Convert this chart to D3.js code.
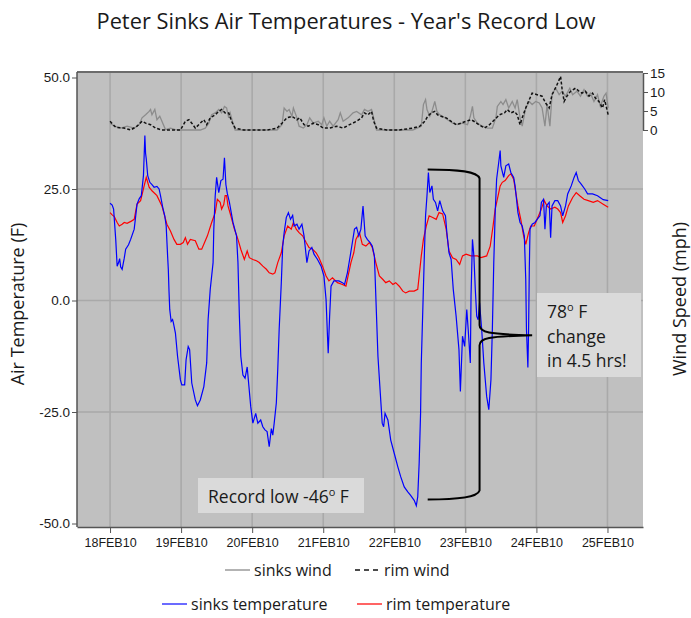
<!DOCTYPE html>
<html>
<head>
<meta charset="utf-8">
<script src="https://cdn.jsdelivr.net/npm/d3@7"></script>
<style>
  body { margin: 0; background: #fff; }
  text { fill: #1a1a1a; }
</style>
</head>
<body>
<svg id="chart" width="691" height="618"></svg>
<script>
// Peter Sinks, Utah — February 2010 air temperature and wind record.
// Each series is [days since 18FEB10 00:00, value].

const sinksTemp = [
  [0,21.8],[0.03,21.4],[0.05,20.5],[0.08,13.7],[0.10,7.7],[0.12,8.5],[0.135,9.4],[0.15,7.5],[0.17,7.0],
  [0.20,9.5],[0.22,11.5],[0.26,12.5],[0.29,13.7],[0.34,16],[0.38,21.6],[0.41,22.8],[0.44,23.5],[0.47,28],
  [0.49,37],[0.50,33],[0.51,31.7],[0.53,28],[0.56,26.5],[0.59,26],[0.62,25.4],[0.66,25.6],[0.69,25],
  [0.71,23.5],[0.74,21],[0.77,19],[0.79,16.7],[0.81,10],[0.82,7],[0.83,2],[0.84,-2],[0.86,-4.7],[0.88,-4.3],
  [0.89,-4.9],[0.92,-7.3],[0.95,-12.5],[0.99,-17.8],[1.01,-18.9],[1.05,-18.9],[1.07,-13.3],[1.10,-10.3],
  [1.12,-11],[1.15,-18.5],[1.20,-22.3],[1.23,-23.6],[1.27,-22.3],[1.32,-19.3],[1.36,-14],[1.38,-4.3],
  [1.41,2.5],[1.45,8.5],[1.46,16],[1.48,23.5],[1.50,27.6],[1.53,24.2],[1.56,26.9],[1.59,27.2],[1.61,32],
  [1.63,26],[1.65,24],[1.68,22],[1.73,17.5],[1.78,14.5],[1.80,8.5],[1.82,-3.5],[1.84,-12.5],[1.87,-16.7],
  [1.90,-17.4],[1.93,-14.9],[1.95,-18.5],[1.98,-23.8],[2.01,-27.5],[2.05,-25.3],[2.08,-27.5],[2.12,-26.8],
  [2.15,-28.3],[2.18,-29],[2.21,-29.4],[2.24,-32.8],[2.27,-28.7],[2.29,-30.2],[2.31,-27.5],[2.34,-23],
  [2.36,-15.5],[2.38,-6.5],[2.41,4],[2.43,12.2],[2.45,15.2],[2.48,18.6],[2.51,19.7],[2.54,18.2],[2.57,19.1],
  [2.59,16.7],[2.63,17.1],[2.66,16],[2.70,17.1],[2.73,14.5],[2.77,8.5],[2.80,11.1],[2.84,11.9],[2.87,10.4],
  [2.92,9.2],[2.97,7.7],[3.01,5.5],[3.04,0.2],[3.06,-8],[3.07,-11.8],[3.09,-3.5],[3.11,3.2],[3.15,4.4],
  [3.22,4.4],[3.27,4],[3.30,3.6],[3.34,6.2],[3.38,10],[3.41,13],[3.44,16],[3.47,16.4],[3.50,14.5],[3.53,16],
  [3.56,21.2],[3.59,14.5],[3.62,13.7],[3.66,13],[3.69,12.2],[3.72,10],[3.74,1],[3.77,-12.5],[3.80,-20],
  [3.83,-27.5],[3.85,-28.3],[3.87,-25.3],[3.91,-26.8],[3.95,-31.3],[4.00,-34.3],[4.05,-37.3],[4.09,-39.5],
  [4.14,-41.8],[4.19,-42.9],[4.23,-43.7],[4.28,-44.8],[4.31,-46],[4.33,-44],[4.35,-36.5],[4.37,-25.3],
  [4.38,-14],[4.40,-2.8],[4.42,8.5],[4.44,19],[4.46,23.5],[4.48,28.7],[4.50,24.2],[4.53,25.7],[4.55,22.7],
  [4.58,22],[4.61,20.1],[4.64,22.4],[4.68,20.1],[4.72,19],[4.74,15.2],[4.77,10.7],[4.80,9.2],[4.83,2.5],
  [4.87,-3.5],[4.91,-11],[4.93,-20.4],[4.96,-8],[4.99,-10.3],[5.02,-2],[5.04,-6.5],[5.07,-14],[5.08,1],
  [5.10,13.7],[5.12,10],[5.14,2.5],[5.16,-3.5],[5.18,-4.3],[5.20,-0.5],[5.23,-6.5],[5.26,-14],[5.30,-21.5],
  [5.33,-24.5],[5.36,-17.8],[5.38,-6.5],[5.40,8.5],[5.42,19.7],[5.44,27.2],[5.47,31],[5.49,33.6],[5.50,30.2],
  [5.54,27.6],[5.57,30.2],[5.61,30.6],[5.64,28.7],[5.68,27.6],[5.70,25.7],[5.72,22.7],[5.74,19.7],
  [5.77,17.5],[5.80,16.7],[5.83,14.5],[5.85,4.7],[5.86,-6.5],[5.88,-15],[5.89,-6.5],[5.90,7],[5.91,16],
  [5.94,17.1],[5.98,17.5],[6.01,18.2],[6.05,19],[6.07,22],[6.10,22.7],[6.12,16],[6.14,21.2],[6.18,22],
  [6.20,14.1],[6.22,21.2],[6.26,22.4],[6.30,22.4],[6.34,21.2],[6.37,19],[6.41,21.2],[6.44,23.9],[6.49,25.7],
  [6.53,27.6],[6.56,28.7],[6.59,26.9],[6.63,26.1],[6.68,25],[6.72,23.9],[6.79,23.9],[6.86,23.5],[6.94,22.6],
  [7.01,22.4]
];

const rimTemp = [
  [0,19.7],[0.03,19.2],[0.06,18.8],[0.10,17.5],[0.13,16.7],[0.17,17.1],[0.20,17.5],[0.24,17.3],[0.30,17.8],
  [0.34,18.2],[0.38,21.6],[0.43,22.4],[0.48,25.7],[0.51,27.6],[0.55,25.4],[0.59,24.6],[0.66,23.5],[0.73,21.2],
  [0.80,17.1],[0.85,15.6],[0.90,13.7],[0.94,12.6],[0.99,12.6],[1.03,13],[1.06,14.1],[1.09,12.6],[1.13,13.7],
  [1.20,13.4],[1.25,11.5],[1.29,11.5],[1.33,13],[1.37,14.5],[1.43,17.5],[1.48,19.7],[1.51,22.7],[1.55,22],
  [1.57,20.5],[1.60,21.5],[1.62,23.5],[1.64,23.5],[1.66,21.2],[1.70,19],[1.75,16],[1.80,13.7],[1.84,11.5],
  [1.89,9.2],[1.93,11.1],[1.96,9.6],[2.01,9.2],[2.06,8.9],[2.10,8.5],[2.15,7.7],[2.20,7],[2.24,6.2],[2.29,5.9],
  [2.32,6.2],[2.36,8.5],[2.41,10.7],[2.45,14.5],[2.50,16.7],[2.55,16],[2.58,17.5],[2.62,16],[2.66,15.2],
  [2.71,14.5],[2.76,13],[2.80,11.9],[2.85,11.5],[2.90,10.7],[2.94,9.6],[2.99,7.7],[3.04,5.5],[3.08,4.4],
  [3.13,5.1],[3.20,4],[3.27,3.6],[3.32,3.2],[3.35,5.5],[3.39,8.5],[3.43,10.7],[3.46,13.7],[3.51,15.2],
  [3.55,12.6],[3.60,12.2],[3.65,13],[3.69,11.9],[3.74,8.5],[3.79,5.5],[3.84,4.7],[3.88,4],[3.93,4.4],[3.98,3.6],
  [4.02,4],[4.07,3.2],[4.12,2.1],[4.16,1.7],[4.21,2.1],[4.28,2.1],[4.33,2.5],[4.35,5.5],[4.38,10],[4.41,13.7],
  [4.45,16.7],[4.49,19],[4.54,18.6],[4.59,18.2],[4.63,19.7],[4.68,19.4],[4.73,16],[4.77,11.1],[4.82,9.6],
  [4.87,9.2],[4.92,8.1],[4.96,10],[5.01,10.4],[5.08,10],[5.17,10],[5.22,9.6],[5.30,10],[5.35,12.2],[5.39,16.7],
  [5.42,20.5],[5.45,22.7],[5.49,25.7],[5.52,26.5],[5.56,26.9],[5.61,28],[5.64,28.4],[5.68,27.2],[5.71,24.2],
  [5.74,21.2],[5.78,18.2],[5.82,14.5],[5.85,12.6],[5.89,15.2],[5.92,16.7],[5.97,16.7],[6.01,18.2],[6.06,20.1],
  [6.11,22.4],[6.15,21.2],[6.20,20.5],[6.26,20.9],[6.30,20.5],[6.34,19.7],[6.37,17.5],[6.41,19],[6.45,21.2],
  [6.51,23.1],[6.56,24.2],[6.61,23.5],[6.67,22.7],[6.73,22.4],[6.80,22],[6.86,22.4],[6.94,21.6],[7.01,20.9]
];

const sinksWind = [
  [0,1.8],[0.06,1],[0.15,0.5],[0.24,1],[0.34,0.5],[0.41,1.4],[0.45,3.2],[0.50,4],[0.55,4.9],[0.57,5.4],
  [0.59,4],[0.63,5.4],[0.66,2.7],[0.70,3.6],[0.73,2.3],[0.78,0.1],[0.85,0.5],[0.92,0.1],[0.99,0],[1.08,0],
  [1.18,0],[1.27,0],[1.34,0.5],[1.39,1.8],[1.43,4],[1.48,4.5],[1.53,5.4],[1.57,4.5],[1.61,6.2],[1.64,5.8],
  [1.67,3.2],[1.69,4.5],[1.73,1.8],[1.76,0],[1.88,0],[2.02,0],[2.21,0],[2.35,0],[2.42,1.4],[2.45,5.8],
  [2.49,4.9],[2.52,5.4],[2.56,3.6],[2.58,5.8],[2.63,3.2],[2.66,1],[2.72,0.5],[2.77,1.4],[2.81,3.2],[2.86,1.8],
  [2.93,2.3],[2.98,1.4],[3.01,3.2],[3.05,1],[3.09,2.3],[3.14,1],[3.21,2.7],[3.24,4.5],[3.28,2.3],[3.35,3.2],
  [3.42,4.5],[3.47,4.9],[3.54,4],[3.58,5.4],[3.63,4.9],[3.68,5.4],[3.71,3.2],[3.75,0],[3.89,0],[4.07,0],
  [4.26,0],[4.38,1],[4.41,6.7],[4.44,8],[4.46,5.4],[4.50,3.6],[4.53,4.9],[4.57,7.5],[4.60,4.9],[4.64,4],
  [4.68,3.6],[4.75,2.7],[4.82,1.8],[4.89,1.4],[4.96,1.8],[5.03,1.4],[5.07,3.6],[5.10,6.2],[5.12,3.2],
  [5.17,1.8],[5.24,1],[5.31,0.5],[5.38,0.5],[5.43,3.2],[5.45,6.2],[5.50,7.5],[5.53,6.7],[5.57,8],[5.61,5.8],
  [5.66,7.5],[5.70,5.8],[5.73,8],[5.77,3.2],[5.80,1],[5.85,5.8],[5.90,7.5],[5.94,6.7],[5.99,7.5],[6.04,7.1],
  [6.08,5.8],[6.12,1],[6.15,6.7],[6.19,1],[6.22,9.3],[6.27,11],[6.32,9.3],[6.36,10.2],[6.41,8.9],[6.47,11],
  [6.51,9.3],[6.57,10.2],[6.62,8.9],[6.67,10.6],[6.72,8.9],[6.76,9.7],[6.81,7.5],[6.86,9.3],[6.90,6.2],
  [6.95,8.9],[6.98,9.7],[7.01,5.8]
];

const rimWind = [
  [0,2.3],[0.08,0.7],[0.20,0.5],[0.29,0],[0.38,1],[0.45,2.3],[0.50,1.8],[0.57,1.4],[0.64,0.5],[0.73,0],
  [0.87,0],[0.99,0],[1.06,2.3],[1.11,2.7],[1.15,1.8],[1.20,0.5],[1.27,1.8],[1.32,2.7],[1.36,1.4],[1.41,3.2],
  [1.48,4],[1.53,4.9],[1.57,5.4],[1.62,4.5],[1.67,4.5],[1.71,2.3],[1.76,0.5],[1.88,0],[2.02,0],[2.21,0],
  [2.35,0.5],[2.42,1.8],[2.49,3.2],[2.56,3.6],[2.63,2.7],[2.67,3.2],[2.73,1.4],[2.79,1],[2.86,1.8],[2.93,1.4],
  [3.00,0.5],[3.09,0.5],[3.19,1],[3.28,0.5],[3.37,1.4],[3.47,2.3],[3.54,3.2],[3.58,4.5],[3.63,4],[3.68,4.9],
  [3.71,2.3],[3.75,0.5],[3.89,0],[4.07,0],[4.26,0.5],[4.36,1],[4.43,2.3],[4.47,3.6],[4.52,4.5],[4.57,4.9],
  [4.61,4],[4.66,3.6],[4.73,3.2],[4.80,2.3],[4.87,1.4],[4.94,1.8],[5.01,2.3],[5.08,2.7],[5.12,2.3],[5.19,1.4],
  [5.27,0.5],[5.34,1.4],[5.41,2.7],[5.48,4],[5.55,4.5],[5.59,5.4],[5.64,4.5],[5.69,4.9],[5.73,4],[5.77,1.4],
  [5.80,3.2],[5.85,5.8],[5.90,8],[5.94,9.7],[6.01,9.3],[6.08,8.9],[6.13,7.1],[6.18,5.8],[6.22,9.3],[6.28,11.5],
  [6.34,14.1],[6.36,11],[6.39,7.5],[6.43,8.9],[6.48,10.2],[6.55,11],[6.60,10.2],[6.64,9.7],[6.69,10.2],
  [6.74,8.9],[6.79,9.7],[6.83,8.4],[6.88,7.5],[6.93,5.8],[6.96,8],[7.01,4]
];

const tempTicks = [-50, -25, 0, 25, 50];
const windTicks = [0, 5, 10, 15];
const dayTicks = [0, 1, 2, 3, 4, 5, 6, 7];   // midnight of 18..25 Feb 2010

const titleText = "Peter Sinks Air Temperatures - Year's Record Low";
const legendRows = [
  [{ label: "sinks wind", color: "#9a9a9a", dash: null },
   { label: "rim wind", color: "#111", dash: "5,4" }],
  [{ label: "sinks temperature", color: "#3a3aff", dash: null },
   { label: "rim temperature", color: "#ff3030", dash: null }]
];

// ---------------------------------------------------------------
const svg = d3.select("#chart");
const base = Date.UTC(2010, 1, 18);
const toDate = d => new Date(base + d * 864e5);

const plot = { left: 77, right: 643, top: 72, bottom: 527 };

const x = d3.scaleUtc()
  .domain([toDate(-0.465), toDate(7.5)])
  .range([plot.left, plot.right]);
const yT = d3.scaleLinear().domain([-50, 50]).range([523.5, 77.5]);
const yW = d3.scaleLinear().domain([0, 15]).range([130, 73]);

// plot background
svg.append("rect")
  .attr("x", plot.left).attr("y", plot.top)
  .attr("width", plot.right - plot.left).attr("height", plot.bottom - plot.top)
  .attr("fill", "#c0c0c0");

// grid
const grid = svg.append("g").attr("stroke", "#a9a9a9").attr("stroke-width", 1.6);
grid.selectAll("line.v").data(dayTicks).join("line")
  .attr("x1", d => x(toDate(d))).attr("x2", d => x(toDate(d)))
  .attr("y1", plot.top).attr("y2", plot.bottom);
grid.selectAll("line.h").data(tempTicks.filter(t => t > -50 && t < 50)).join("line")
  .attr("x1", plot.left).attr("x2", plot.right)
  .attr("y1", d => yT(d)).attr("y2", d => yT(d));

// frame top
svg.append("line")
  .attr("x1", plot.left).attr("x2", plot.right)
  .attr("y1", plot.top).attr("y2", plot.top)
  .attr("stroke", "#6b6b6b").attr("stroke-width", 2);

// axes
const tickFont = "'Liberation Sans Narrow','Liberation Sans',sans-serif";

const xAxis = svg.append("g")
  .attr("transform", `translate(0,${plot.bottom})`)
  .call(d3.axisBottom(x)
    .tickValues(dayTicks.map(toDate))
    .tickSize(6).tickSizeOuter(0)
    .tickFormat(d => d3.utcFormat("%d%b%y")(d).toUpperCase()));

const yAxis = svg.append("g")
  .attr("transform", `translate(${plot.left},0)`)
  .call(d3.axisLeft(yT).tickValues(tempTicks).tickSize(5).tickSizeOuter(0)
    .tickFormat(d => d.toFixed(1)));

const wAxis = svg.append("g")
  .attr("transform", `translate(${plot.right},0)`)
  .call(d3.axisRight(yW).tickValues(windTicks).tickSize(5).tickSizeOuter(0));

[xAxis, yAxis, wAxis].forEach(g => {
  g.select(".domain").attr("stroke", "#555").attr("stroke-width", 1.5);
  g.selectAll(".tick line").attr("stroke", "#555");
  g.selectAll(".tick text")
    .attr("font-family", tickFont).attr("font-size", 13.5).attr("fill", "#1a1a1a");
});
yAxis.select(".domain").attr("d", `M0,${plot.top}V${plot.bottom}`);
xAxis.selectAll(".tick text").attr("dy", "0.9em").attr("font-size", 12.5);
wAxis.selectAll(".tick text").attr("x", 7);
yAxis.selectAll(".tick text").attr("x", -7);

// series
const lineT = d3.line().x(d => x(toDate(d[0]))).y(d => yT(d[1]));
const lineW = d3.line().x(d => x(toDate(d[0]))).y(d => yW(d[1]));

svg.append("path").datum(sinksWind).attr("d", lineW)
  .attr("fill", "none").attr("stroke", "#8c8c8c").attr("stroke-width", 1.3);
svg.append("path").datum(rimWind).attr("d", lineW)
  .attr("fill", "none").attr("stroke", "#111").attr("stroke-width", 1.5)
  .attr("stroke-dasharray", "3,2");
svg.append("path").datum(rimTemp).attr("d", lineT)
  .attr("fill", "none").attr("stroke", "#ff0000").attr("stroke-width", 1.2);
svg.append("path").datum(sinksTemp).attr("d", lineT)
  .attr("fill", "none").attr("stroke", "#0000ff").attr("stroke-width", 1.2);

// bracket spanning the swing from the record low to the following peak
{
  const xL = x(toDate(4.47)), xV = x(toDate(5.2)), xTip = x(toDate(5.94));
  const yTop = yT(29.4), yBot = yT(-44.6), yMid = yT(-7.8);
  const p = d3.path();
  p.moveTo(xL, yTop);
  p.bezierCurveTo(xL + 30, yTop, xV - 2, yTop + 2, xV, yTop + 9);
  p.lineTo(xV, yMid - 10);
  p.bezierCurveTo(xV, yMid - 3, xV + 8, yMid - 1, xTip, yMid);
  p.bezierCurveTo(xV + 8, yMid + 1, xV, yMid + 3, xV, yMid + 10);
  p.lineTo(xV, yBot - 9);
  p.bezierCurveTo(xV - 2, yBot - 2, xL + 30, yBot, xL, yBot);
  svg.append("path").attr("d", p.toString())
    .attr("fill", "none").attr("stroke", "#000").attr("stroke-width", 2);
}

// annotation boxes
const noteFont = "'Open Sans',sans-serif";
function degreeText(sel, before, after) {
  sel.append("tspan").text(before);
  sel.append("tspan").text("o").attr("font-size", 11).attr("dy", -7);
  sel.append("tspan").text(after).attr("dy", 7);
}

svg.append("rect").attr("x", 198).attr("y", 478).attr("width", 166).attr("height", 35)
  .attr("fill", "#dadada");
svg.append("text").attr("x", 208).attr("y", 503)
  .attr("font-family", noteFont).attr("font-size", 17.5)
  .call(degreeText, "Record low -46", " F");

svg.append("rect").attr("x", 537).attr("y", 293).attr("width", 104).attr("height", 84)
  .attr("fill", "#dadada");
svg.append("text").attr("x", 547).attr("y", 318)
  .attr("font-family", noteFont).attr("font-size", 17.5)
  .call(degreeText, "78", " F");
svg.append("text").attr("x", 547).attr("y", 343)
  .attr("font-family", noteFont).attr("font-size", 17.5).text("change");
svg.append("text").attr("x", 547).attr("y", 367)
  .attr("font-family", noteFont).attr("font-size", 17.5).text("in 4.5 hrs!");

// titles
svg.append("text").attr("x", 346).attr("y", 29).attr("text-anchor", "middle")
  .attr("font-family", noteFont).attr("font-size", 21.8).text(titleText);

svg.append("text")
  .attr("transform", "translate(24,304) rotate(-90)")
  .attr("text-anchor", "middle")
  .attr("font-family", noteFont).attr("font-size", 18)
  .text("Air Temperature (F)");
svg.append("text")
  .attr("transform", "translate(686,299) rotate(-90)")
  .attr("text-anchor", "middle")
  .attr("font-family", noteFont).attr("font-size", 18)
  .text("Wind Speed (mph)");

// legend
const legendPos = [[[225, 570], [355, 570]], [[162, 604], [357, 604]]];
legendRows.forEach((row, r) => {
  row.forEach((item, i) => {
    const [lx, ly] = legendPos[r][i];
    const g = svg.append("g").attr("transform", `translate(${lx},${ly})`);
    g.append("line").attr("x1", 0).attr("x2", 25).attr("y1", 0).attr("y2", 0)
      .attr("stroke", item.color).attr("stroke-width", 1.5)
      .attr("stroke-dasharray", item.dash);
    g.append("text").attr("x", 29).attr("y", 6)
      .attr("font-family", noteFont).attr("font-size", 16).text(item.label);
  });
});
</script>
</body>
</html>
